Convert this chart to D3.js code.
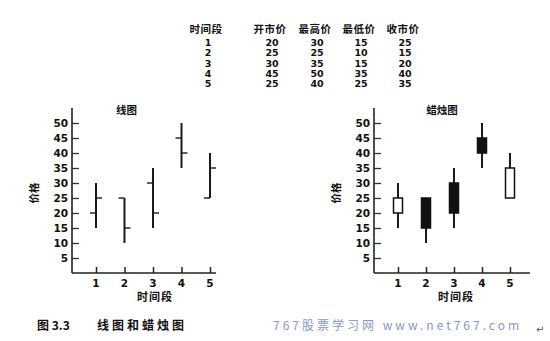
<!DOCTYPE html>
<html>
<head>
<meta charset="utf-8">
<script src="https://cdn.jsdelivr.net/npm/d3@7"></script>
<style>
  body { margin: 0; background: #fff; }
  svg text { font-family: "Noto Sans CJK SC", "DejaVu Sans", sans-serif; font-weight: bold; fill: #111; white-space: pre; }
</style>
</head>
<body>
<svg id="chart" width="550" height="341"></svg>
<script>
// data from the table
var periods = [1, 2, 3, 4, 5];
var openP  = [20, 25, 30, 45, 25];
var highP  = [30, 25, 35, 50, 40];
var lowP   = [15, 10, 15, 35, 25];
var closeP = [25, 15, 20, 40, 35];
var headers = ["时间段", "开市价", "最高价", "最低价", "收市价"];
var yTicks = [5, 10, 15, 20, 25, 30, 35, 40, 45, 50];

var svg = d3.select("#chart");
var numFont = "'DejaVu Sans', sans-serif";

// table at top
var colX = [206, 270, 315, 359, 403];
var table = svg.append("g");
table.selectAll("text.head").data(headers).enter().append("text")
    .attr("class", "head")
    .attr("x", function(d, i){ return colX[i]; })
    .attr("y", 33).attr("text-anchor", "middle")
    .style("font-size", "10.5px").style("letter-spacing", "0.5px").text(function(d){ return d; });
var cols = [periods, openP, highP, lowP, closeP];
periods.forEach(function(p, r){
    cols.forEach(function(col, c){
        table.append("text")
            .attr("x", colX[c] + 2).attr("y", 46 + r * 10.3)
            .attr("text-anchor", "middle")
            .style("font-family", numFont)
            .style("font-size", "9.5px").text(col[r]);
    });
});

// draws one panel; kind is "bar" or "candle"
var drawPanel = function(axisX, x1, x5, xEnd, title, kind){
    var x = d3.scaleLinear().domain([1, 5]).range([x1, x5]);
    var y = d3.scaleLinear().domain([0, 50]).range([273, 123]);
    var g = svg.append("g");

    // y axis, ticks pointing inward
    var yAxis = d3.axisRight(y).tickValues(yTicks).tickSize(7).tickFormat("");
    g.append("g").attr("transform", "translate(" + axisX + ",0)").call(yAxis)
        .call(function(s){ s.select(".domain").remove(); })
        .selectAll("line").attr("stroke", "#333").attr("stroke-width", 1.3);
    g.append("line").attr("x1", axisX).attr("x2", axisX).attr("y1", 108).attr("y2", y(0))
        .attr("stroke", "#222").attr("stroke-width", 1.6);
    g.selectAll("text.ytick").data(yTicks).enter().append("text")
        .attr("x", axisX - 4).attr("y", function(d){ return y(d) + 4; })
        .attr("text-anchor", "end")
        .style("font-family", numFont).style("font-size", "10.5px")
        .text(function(d){ return d; });

    // x axis, ticks pointing up
    g.append("line").attr("x1", axisX).attr("x2", xEnd).attr("y1", y(0)).attr("y2", y(0))
        .attr("stroke", "#222").attr("stroke-width", 1.6);
    var xAxis = d3.axisTop(x).tickValues(periods).tickSize(6).tickFormat("");
    g.append("g").attr("transform", "translate(0," + y(0) + ")").call(xAxis)
        .call(function(s){ s.select(".domain").remove(); })
        .selectAll("line").attr("stroke", "#222").attr("stroke-width", 1.5);
    g.selectAll("text.xtick").data(periods).enter().append("text")
        .attr("x", function(d){ return x(d); }).attr("y", 287)
        .attr("text-anchor", "middle")
        .style("font-family", numFont).style("font-size", "10.5px")
        .text(function(d){ return d; });

    g.append("text").attr("x", (x(2.5) + x(3.5)) / 2 + 2).attr("y", 301).attr("text-anchor", "middle")
        .style("font-size", "11px").style("letter-spacing", "1px").text("时间段");
    g.append("text").attr("x", title === "线图" ? x(2) + 2 : x(2.5) + 2).attr("y", 114).attr("text-anchor", "middle")
        .style("font-size", "10.5px").text(title);
    g.append("text").attr("transform", "translate(" + (axisX - 34) + "," + 193 + ") rotate(-90)")
        .attr("text-anchor", "middle").style("font-size", "10.5px").text("价格");

    var data = periods.map(function(p, i){
        return { p: p, o: openP[i], h: highP[i], l: lowP[i], c: closeP[i] };
    });

    // high-low line
    g.selectAll("line.hl").data(data).enter().append("line")
        .attr("x1", function(d){ return x(d.p); }).attr("x2", function(d){ return x(d.p); })
        .attr("y1", function(d){ return y(d.h); }).attr("y2", function(d){ return y(d.l); })
        .attr("stroke", "#1a1a1a").attr("stroke-width", 2);

    if (kind === "bar"){
        g.selectAll("line.op").data(data).enter().append("line")
            .attr("x1", function(d){ return x(d.p) - 6; }).attr("x2", function(d){ return x(d.p); })
            .attr("y1", function(d){ return y(d.o); }).attr("y2", function(d){ return y(d.o); })
            .attr("stroke", "#1a1a1a").attr("stroke-width", 1.4);
        g.selectAll("line.cl").data(data).enter().append("line")
            .attr("x1", function(d){ return x(d.p); }).attr("x2", function(d){ return x(d.p) + 6; })
            .attr("y1", function(d){ return y(d.c); }).attr("y2", function(d){ return y(d.c); })
            .attr("stroke", "#1a1a1a").attr("stroke-width", 1.4);
    } else {
        var w = 9;
        g.selectAll("rect.body").data(data).enter().append("rect")
            .attr("x", function(d){ return x(d.p) - w / 2; })
            .attr("y", function(d){ return y(Math.max(d.o, d.c)); })
            .attr("width", w)
            .attr("height", function(d){ return Math.abs(y(d.o) - y(d.c)); })
            .attr("fill", function(d){ return d.c > d.o ? "#fff" : "#111"; })
            .attr("stroke", "#111").attr("stroke-width", 1.5);
    }
};

drawPanel(72, 96, 210, 216, "线图", "bar");
drawPanel(374, 398, 510, 530, "蜡烛图", "candle");

// caption and watermark
svg.append("text").attr("x", 37).attr("y", 330).style("font-size", "12px").text("图 3.3");
svg.append("text").attr("x", 97).attr("y", 330).style("font-size", "12px").style("letter-spacing", "3px").text("线图和蜡烛图");
svg.append("text").attr("x", 273).attr("y", 330)
    .style("font-size", "12px").style("font-weight", "normal").style("fill", "#8896c4")
    .style("letter-spacing", "3px").text("767股票学习网 www.net767.com");
svg.append("text").attr("x", 536).attr("y", 333)
    .style("font-size", "10px").style("font-weight", "normal").style("fill", "#555").text("↵");
</script>
</body>
</html>
